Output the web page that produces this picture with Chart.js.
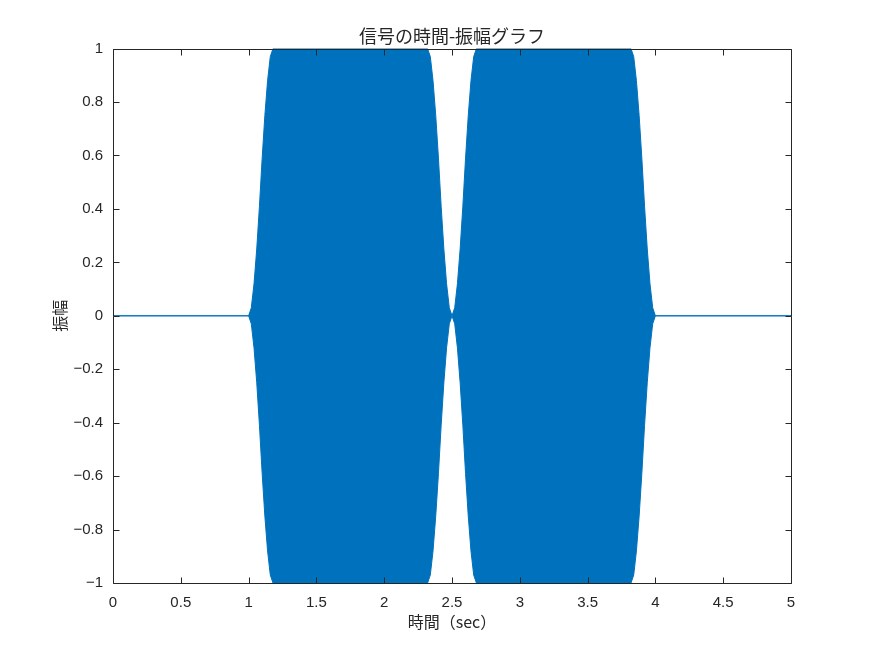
<!DOCTYPE html>
<html>
<head>
<meta charset="utf-8">
<script src="https://cdn.jsdelivr.net/npm/chart.js@4.4.0/dist/chart.umd.min.js"></script>
<style>
  html, body { margin: 0; padding: 0; background: #fff; }
  #wrap { width: 875px; height: 656px; }
</style>
</head>
<body>
<div id="wrap"><canvas id="myChart"></canvas></div>
<script>
// envelope of the signal (the fast sine fills it solid)
const timeSec = [0, 1.00, 1.02, 1.04, 1.06, 1.08, 1.10, 1.12, 1.14, 1.16, 1.18,
                 2.32, 2.34, 2.36, 2.38, 2.40, 2.42, 2.44, 2.46, 2.48, 2.50,
                 2.52, 2.54, 2.56, 2.58, 2.60, 2.62, 2.64, 2.66, 2.68,
                 3.82, 3.84, 3.86, 3.88, 3.90, 3.92, 3.94, 3.96, 3.98, 4.00, 5.00];
const ampUpper = [0, 0, 0.03, 0.12, 0.25, 0.41, 0.59, 0.75, 0.88, 0.97, 1.0,
                  1.0, 0.97, 0.88, 0.75, 0.59, 0.41, 0.25, 0.12, 0.03, 0,
                  0.03, 0.12, 0.25, 0.41, 0.59, 0.75, 0.88, 0.97, 1.0,
                  1.0, 0.97, 0.88, 0.75, 0.59, 0.41, 0.25, 0.12, 0.03, 0, 0];
const ampLower = [0, 0, -0.03, -0.12, -0.25, -0.41, -0.59, -0.75, -0.88, -0.97, -1.0,
                  -1.0, -0.97, -0.88, -0.75, -0.59, -0.41, -0.25, -0.12, -0.03, 0,
                  -0.03, -0.12, -0.25, -0.41, -0.59, -0.75, -0.88, -0.97, -1.0,
                  -1.0, -0.97, -0.88, -0.75, -0.59, -0.41, -0.25, -0.12, -0.03, 0, 0];
const xTickValues = [0, 0.5, 1, 1.5, 2, 2.5, 3, 3.5, 4, 4.5, 5];
const yTickValues = [-1, -0.8, -0.6, -0.4, -0.2, 0, 0.2, 0.4, 0.6, 0.8, 1];

const blue = '#0072BD';
const axisColor = '#262626';
const tickFont = { family: '"Liberation Sans", Arial, sans-serif', size: 15 };
const jpFont = '"Noto Sans CJK JP", sans-serif';

// MATLAB style box with inward ticks on all four sides
const axesBox = {
  id: 'axesBox',
  afterDatasetsDraw(chart) {
    const { ctx, chartArea: a, scales: { x, y } } = chart;
    const L = Math.round(a.left) + 0.5, R = Math.round(a.right) + 0.5;
    const T = Math.round(a.top) + 0.5, B = Math.round(a.bottom) + 0.5;
    const len = 6;
    ctx.save();
    ctx.strokeStyle = axisColor;
    ctx.lineWidth = 1;
    ctx.beginPath();
    ctx.rect(L, T, R - L, B - T);
    xTickValues.forEach(v => {
      const px = Math.round(x.getPixelForValue(v)) + 0.5;
      ctx.moveTo(px, B); ctx.lineTo(px, B - len);
      ctx.moveTo(px, T); ctx.lineTo(px, T + len);
    });
    yTickValues.forEach(v => {
      const py = Math.round(y.getPixelForValue(v)) + 0.5;
      ctx.moveTo(L, py); ctx.lineTo(L + len, py);
      ctx.moveTo(R, py); ctx.lineTo(R - len, py);
    });
    ctx.stroke();
    ctx.restore();
  }
};

const points = arr => timeSec.map((t, i) => ({ x: t, y: arr[i] }));
const fmt = v => String(Math.round(v * 10) / 10).replace('-', '\u2212');

new Chart(document.getElementById('myChart'), {
  type: 'line',
  data: {
    datasets: [
      {
        label: 'upper',
        data: points(ampUpper),
        borderColor: blue,
        backgroundColor: blue,
        borderWidth: 1,
        pointRadius: 0,
        fill: '+1'
      },
      {
        label: 'lower',
        data: points(ampLower),
        borderColor: blue,
        backgroundColor: blue,
        borderWidth: 1,
        pointRadius: 0,
        fill: false
      }
    ]
  },
  options: {
    responsive: true,
    maintainAspectRatio: false,
    animation: false,
    layout: { padding: { left: 0, right: 84, top: 0, bottom: 0 } },
    plugins: {
      legend: { display: false },
      tooltip: { enabled: false },
      title: {
        display: true,
        fullSize: false,
        text: '信号の時間-振幅グラフ',
        color: axisColor,
        font: { family: jpFont, size: 18, weight: 'normal' },
        padding: { top: 25, bottom: 2 }
      }
    },
    scales: {
      x: {
        type: 'linear',
        min: 0,
        max: 5,
        afterBuildTicks: s => { s.ticks = xTickValues.map(v => ({ value: v })); },
        afterFit: s => { s.height = 73; },
        grid: { display: false, drawTicks: false },
        border: { display: false },
        ticks: { color: axisColor, font: tickFont, padding: 11, maxRotation: 0, callback: fmt },
        title: {
          display: true,
          text: '時間（sec）',
          color: axisColor,
          font: { family: jpFont, size: 16 },
          padding: { top: 0, bottom: 24 }
        }
      },
      y: {
        type: 'linear',
        min: -1,
        max: 1,
        afterBuildTicks: s => { s.ticks = yTickValues.map(v => ({ value: v })); },
        afterFit: s => { s.width = 113; },
        grid: { display: false, drawTicks: false },
        border: { display: false },
        ticks: { color: axisColor, font: tickFont, padding: 10, callback: fmt },
        title: {
          display: true,
          text: '振幅',
          color: axisColor,
          font: { family: jpFont, size: 16 },
          padding: { top: 50, bottom: 0 }
        }
      }
    }
  },
  plugins: [axesBox]
});
</script>
</body>
</html>
